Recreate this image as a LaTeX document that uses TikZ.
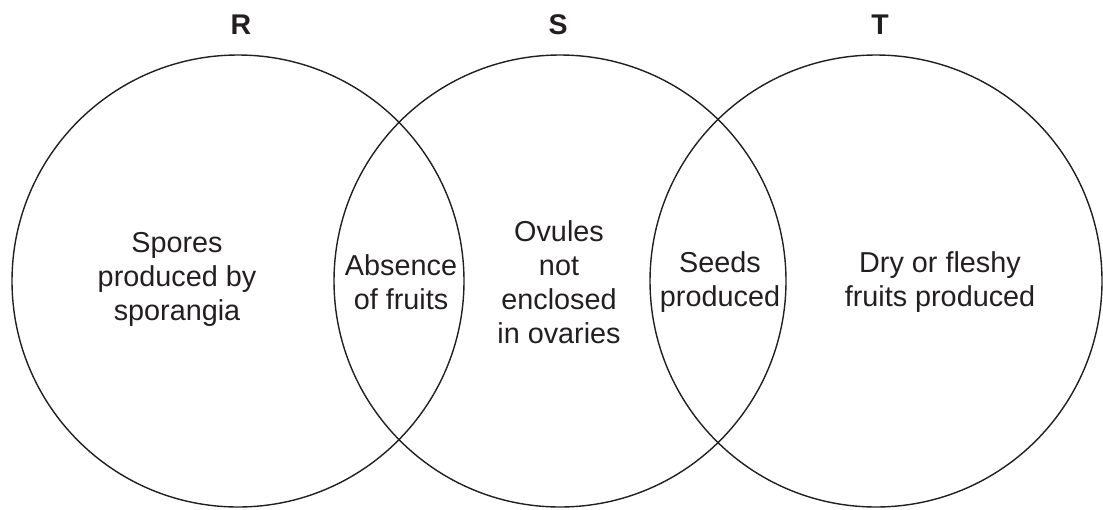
\documentclass[tikz,border=0pt]{standalone}
\usepackage{fontspec}
\setmainfont{Liberation Sans}
\definecolor{ink}{HTML}{231F20}
\begin{document}
\begin{tikzpicture}[x=1pt,y=-1pt,
  ring/.style={draw=ink,line width=1.4pt},
  lbl/.style={font=\fontsize{28.8}{34}\selectfont,text=ink,align=center,inner sep=0pt},
  head/.style={font=\fontsize{28.5}{34}\selectfont\bfseries,text=ink,inner sep=0pt}]
\useasboundingbox (0,0) rectangle (1103,509);
\node[ring,circle,minimum size=452pt,inner sep=0pt] (R) at (238,281) {};
\node[ring,circle,minimum size=452pt,inner sep=0pt] (S) at (560,281) {};
\node[ring,circle,minimum size=452pt,inner sep=0pt] (T) at (876,281) {};
\node[head] (Rl) at (241,24.5) {R};
\node[head] (Sl) at (558,24.5) {S};
\node[head] (Tl) at (880,24.5) {T};
\node[lbl] (a) at (177,279) {Spores\\produced by\\sporangia};
\node[lbl] (b) at (401,282) {Absence\\of fruits};
\node[lbl] (c) at (559,282) {Ovules\\not\\enclosed\\in ovaries};
\node[lbl] (d) at (720,282) {Seeds\\produced};
\node[lbl] (e) at (940,282) {Dry or fleshy\\fruits produced};
\end{tikzpicture}
\end{document}
